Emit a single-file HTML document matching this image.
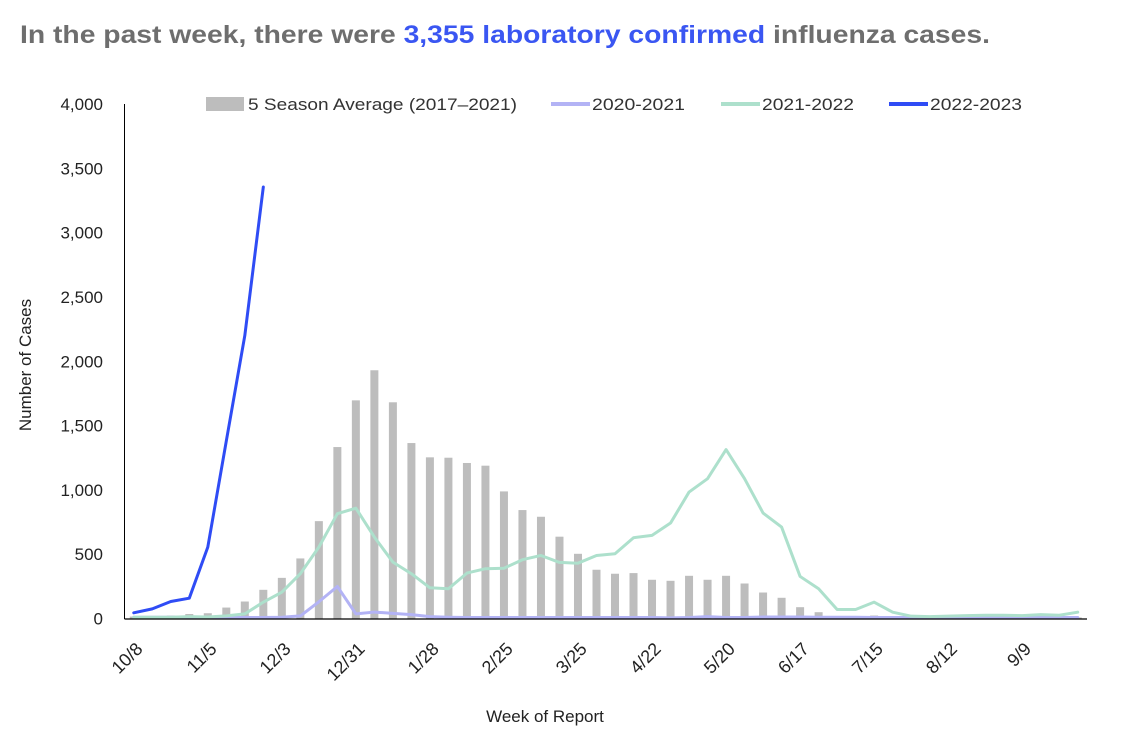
<!DOCTYPE html>
<html><head><meta charset="utf-8"><style>
html,body{margin:0;padding:0;background:#fff;}
svg{display:block;font-family:"Liberation Sans",sans-serif;}
</style></head><body>
<svg id="chart" width="1125" height="743" viewBox="0 0 1125 743">
<text x="20" y="43" font-size="25" font-weight="bold" fill="#6e6e6e" textLength="970" lengthAdjust="spacingAndGlyphs">In the past week, there were <tspan fill="#3a56f2">3,355 laboratory confirmed</tspan> influenza cases.</text>
<g id="legend" font-size="17" fill="#333">
  <g><rect x="206" y="97" width="38" height="14" fill="#bdbdbd"/><text x="248" y="110" textLength="269" lengthAdjust="spacingAndGlyphs">5 Season Average (2017–2021)</text></g>
  <g><line x1="551" y1="104" x2="590" y2="104" stroke="#b3b3f5" stroke-width="4"/><text x="592" y="110" textLength="93" lengthAdjust="spacingAndGlyphs">2020-2021</text></g>
  <g><line x1="721" y1="104" x2="760" y2="104" stroke="#ade0cc" stroke-width="4"/><text x="762" y="110" textLength="92" lengthAdjust="spacingAndGlyphs">2021-2022</text></g>
  <g><line x1="889" y1="104" x2="928" y2="104" stroke="#2f4cf5" stroke-width="4"/><text x="930" y="110" textLength="92" lengthAdjust="spacingAndGlyphs">2022-2023</text></g>
</g>
<text transform="translate(31,365) rotate(-90)" text-anchor="middle" font-size="17" fill="#222">Number of Cases</text>
<text x="545" y="722" text-anchor="middle" font-size="17" fill="#222">Week of Report</text>
<g id="plot"></g>
</svg>
<script>
const weekLabels = ["10/8","11/5","12/3","12/31","1/28","2/25","3/25","4/22","5/20","6/17","7/15","8/12","9/9"];
const yTicks = [0,500,1000,1500,2000,2500,3000,3500,4000];
const avg5 = [15,15,23,35,41,85,132,223,316,467,757,1333,1696,1930,1681,1364,1253,1250,1209,1188,988,843,791,636,503,379,348,353,301,293,332,301,332,272,202,161,88,49,13,12,23,10,8,8,8,8,8,8,8,8,8,8];
const s2021 = [10,10,10,10,8,8,8,8,10,20,130,249,36,50,40,30,15,10,8,8,8,8,8,8,8,8,8,8,8,5,8,15,8,8,12,12,12,10,10,10,8,8,8,8,8,8,8,8,8,8,8,8];
const s2122 = [10,10,10,15,12,20,36,127,205,348,555,815,858,633,438,348,239,231,353,387,391,457,490,436,430,490,503,628,646,742,983,1087,1313,1087,820,711,327,231,70,70,127,49,18,15,18,22,25,25,22,30,25,49];
const s2223 = [44,75,132,158,555,1380,2200,3355];

const svgNS="http://www.w3.org/2000/svg";
const plot=document.getElementById('plot');
const X0=124.5, X1=1087, Y0=618.5, Y1=104, YMAX=4000, N=52;
const bw=(X1-X0)/N;
const xc=i=>X0+bw*(i+0.5);
const y=v=>Y0-(v/YMAX)*(Y0-Y1);
function mk(t,a){const e=document.createElementNS(svgNS,t);for(const k in a)e.setAttribute(k,a[k]);plot.appendChild(e);return e;}

yTicks.forEach(v=>{
  const t=mk('text',{x:103,y:y(v)+6,'text-anchor':'end','font-size':17,fill:'#222'});
  
  
  t.textContent=v.toLocaleString('en-US');
});
avg5.forEach((v,i)=>{
  const r=mk('rect',{x:xc(i)-4,y:y(v),width:8,height:Y0-y(v),fill:'#bdbdbd'});
  
  
});
function line(arr,color,w,name){
  const p=mk('polyline',{points:arr.map((v,i)=>xc(i)+','+y(v)).join(' '),fill:'none',stroke:color,'stroke-width':w,'stroke-linejoin':'round','stroke-linecap':'round'});
  
  
}
line(s2021,'#b3b3f5',3,'line-2020-2021');
line(s2122,'#ade0cc',3,'line-2021-2022');
line(s2223,'#2f4cf5',3,'line-2022-2023');
const ax=mk('line',{x1:X0,y1:Y1,x2:X0,y2:Y0+0.5,stroke:'#000','stroke-width':1});


const bx=mk('line',{x1:X0,y1:Y0+0.5,x2:X1,y2:Y0+0.5,stroke:'#000','stroke-width':1.2});


weekLabels.forEach((l,k)=>{
  const cx=xc(k*4)+10, cy=650;
  const t=mk('text',{transform:`translate(${cx},${cy}) rotate(-45)`,'text-anchor':'end','font-size':18,fill:'#222'});
  
  
  t.textContent=l;
});
</script>
</body></html>
